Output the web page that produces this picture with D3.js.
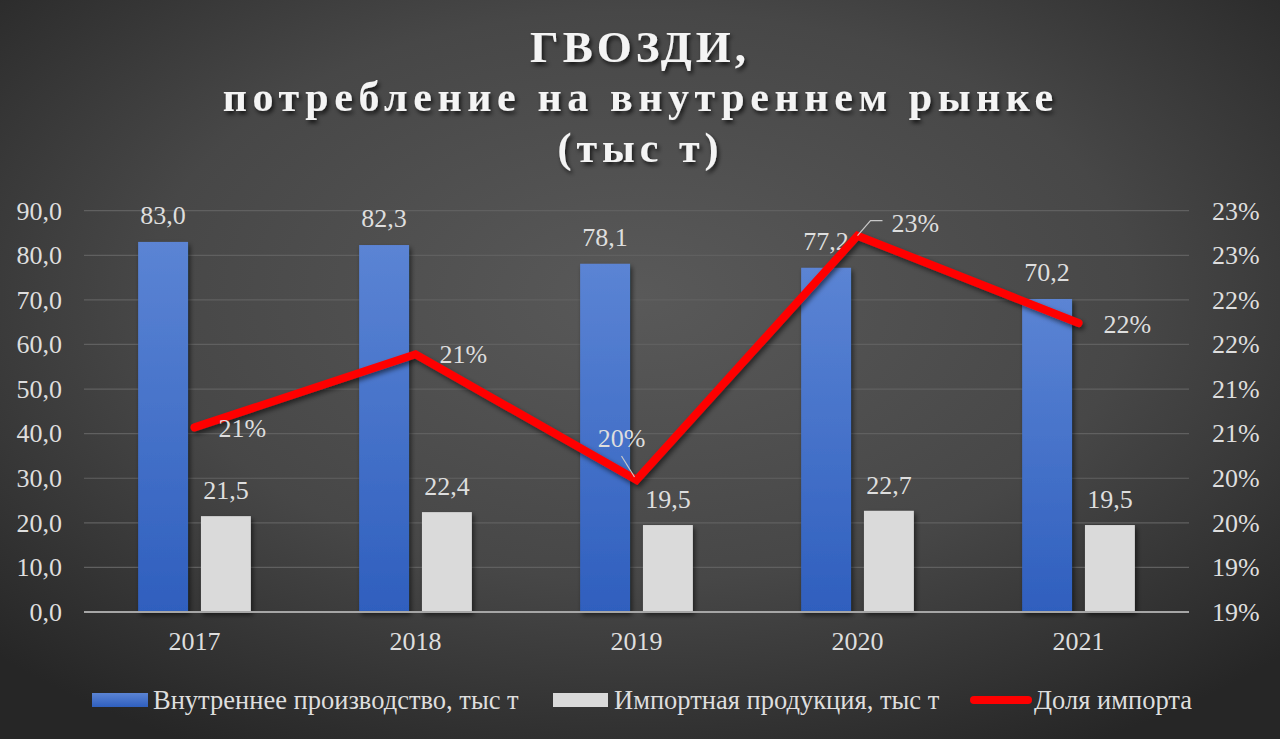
<!DOCTYPE html>
<html><head><meta charset="utf-8">
<script src="https://cdn.jsdelivr.net/npm/d3@7"></script>
<style>html,body{margin:0;padding:0;background:#333;}svg{display:block;}</style>
</head><body>
<svg id="chart" width="1280" height="739"></svg>
<script>
const years = ["2017","2018","2019","2020","2021"];
const domestic = [83.0, 82.3, 78.1, 77.2, 70.2];
const imports = [21.5, 22.4, 19.5, 22.7, 19.5];
const importShare = [0.2057, 0.2139, 0.1998, 0.2272, 0.2174];
const shareLabels = ["21%","21%","20%","23%","22%"];
const leftTicks = [0,10,20,30,40,50,60,70,80,90];
const rightTicks = [0.185,0.19,0.195,0.20,0.205,0.21,0.215,0.22,0.225,0.23];
const rightTickLabels = ["19%","19%","20%","20%","21%","21%","22%","22%","23%","23%"];
const seriesNames = ["Внутреннее производство, тыс т","Импортная продукция, тыс т","Доля импорта"];
const titleLines = ["ГВОЗДИ,","потребление на внутреннем рынке","(тыс т)"];

(function(){
const W=1280,H=739;
const svg=d3.select("#chart");
const defs=svg.append("defs");
const bg=defs.append("radialGradient").attr("id","bg").attr("cx","50%").attr("cy","40%").attr("r","70%");
bg.append("stop").attr("offset","0%").attr("stop-color","#595959");
bg.append("stop").attr("offset","55%").attr("stop-color","#474747");
bg.append("stop").attr("offset","100%").attr("stop-color","#262626");
const bl=defs.append("linearGradient").attr("id","blue").attr("x1",0).attr("y1",0).attr("x2",0).attr("y2",1);
bl.append("stop").attr("offset","0%").attr("stop-color","#5b84d4");
bl.append("stop").attr("offset","100%").attr("stop-color","#2f5fbe");
const sh=defs.append("filter").attr("id","sh").attr("x","-20%").attr("y","-20%").attr("width","150%").attr("height","150%");
sh.append("feDropShadow").attr("dx",2).attr("dy",3).attr("stdDeviation",2.5).attr("flood-color","#000").attr("flood-opacity",0.55);
const tsh=defs.append("filter").attr("id","tsh").attr("x","-10%").attr("y","-20%").attr("width","130%").attr("height","160%");
tsh.append("feDropShadow").attr("dx",2).attr("dy",3).attr("stdDeviation",2).attr("flood-color","#000").attr("flood-opacity",0.7);

svg.append("rect").attr("width",W).attr("height",H).attr("fill","url(#bg)");

const pL=84,pR=1189,pT=210.7,pB=612;
const x0=d3.scaleBand().domain(years).range([pL,pR]).paddingInner(0.49).paddingOuter(0.245);
const x1=d3.scaleBand().domain([0,1]).range([0,x0.bandwidth()]).paddingInner(0.206);
const y=d3.scaleLinear().domain([0,90]).range([pB,pT]);
const y2=d3.scaleLinear().domain([0.185,0.23]).range([pB,pT]);
const font="'Liberation Serif','Times New Roman',serif";
const txt="#dedede";
const fs=26;

// title
const tg=svg.append("g").attr("filter","url(#tsh)").attr("font-family",font).attr("font-weight","bold").attr("fill","#f4f4f4").attr("text-anchor","middle");
const tsz=[45,42,42], tby=[62,111,162], tls=[4,5.6,5];
titleLines.forEach((t,i)=>tg.append("text").attr("x",638+tls[i]/2).attr("y",tby[i]).attr("font-size",tsz[i]).attr("letter-spacing",tls[i]).text(t));

// grid
svg.append("g").selectAll("line").data(leftTicks.slice(1)).join("line")
 .attr("x1",pL).attr("x2",pR).attr("y1",d=>y(d)).attr("y2",d=>y(d))
 .attr("stroke","#606060").attr("stroke-width",1.2);

// left axis
const ax=svg.append("g").attr("transform",`translate(${pL},0)`)
 .call(d3.axisLeft(y).tickValues(leftTicks).tickSize(0).tickPadding(22).tickFormat(d=>d3.format(".1f")(d).replace(".",",")));
ax.select(".domain").remove();
ax.attr("font-family",font).attr("font-size",fs);
ax.selectAll("text").attr("fill",txt);

// right axis
const ax2=svg.append("g").attr("transform",`translate(${pR},0)`)
 .call(d3.axisRight(y2).tickValues(rightTicks).tickSize(0).tickPadding(23).tickFormat((d,i)=>rightTickLabels[i]));
ax2.select(".domain").remove();
ax2.attr("font-family",font).attr("font-size",fs);
ax2.selectAll("text").attr("fill",txt);

// x axis
const axx=svg.append("g").attr("transform",`translate(0,${pB})`)
 .call(d3.axisBottom(x0).tickSize(0).tickPadding(20));
axx.select(".domain").remove();
axx.attr("font-family",font).attr("font-size",fs);
axx.selectAll("text").attr("fill",txt);

// bars
const bars=svg.append("g");
const bw=x1.bandwidth();
bars.selectAll("rect.d").data(domestic).join("rect").attr("class","d")
 .attr("x",(d,i)=>x0(years[i])+x1(0)).attr("width",bw)
 .attr("y",d=>y(d)).attr("height",d=>pB-y(d)).attr("fill","url(#blue)").attr("filter","url(#sh)");
bars.selectAll("rect.m").data(imports).join("rect").attr("class","m")
 .attr("x",(d,i)=>x0(years[i])+x1(1)).attr("width",bw)
 .attr("y",d=>y(d)).attr("height",d=>pB-y(d)).attr("fill","#dadada").attr("filter","url(#sh)");

// baseline
svg.append("line").attr("x1",pL).attr("x2",pR).attr("y1",pB).attr("y2",pB).attr("stroke","#a6a6a6").attr("stroke-width",2);

// bar labels
const lab=svg.append("g").attr("font-family",font).attr("font-size",fs).attr("fill",txt).attr("text-anchor","middle");
const fmt=d=>d3.format(".1f")(d).replace(".",",");
lab.selectAll("text.d").data(domestic).join("text").attr("class","d")
 .attr("x",(d,i)=>x0(years[i])+x1(0)+bw/2).attr("y",d=>y(d)-18).text(fmt);
lab.selectAll("text.m").data(imports).join("text").attr("class","m")
 .attr("x",(d,i)=>x0(years[i])+x1(1)+bw/2).attr("y",d=>y(d)-17).text(fmt);

// line
const cx=i=>x0(years[i])+x0.bandwidth()/2;
const line=d3.line().x((d,i)=>cx(i)).y(d=>y2(d));
svg.append("path").datum(importShare).attr("d",line).attr("fill","none").attr("stroke","#ff0000")
 .attr("stroke-width",8).attr("stroke-linejoin","miter").attr("stroke-linecap","round").attr("filter","url(#sh)");

// line labels
const pos=[{dx:24,dy:0,a:"start"},{dx:24,dy:0,a:"start"},{dx:-15,dy:-42,a:"middle"},{dx:34,dy:-13,a:"start"},{dx:25,dy:1,a:"start"}];
const ll=svg.append("g").attr("font-family",font).attr("font-size",fs).attr("fill",txt);
ll.selectAll("text").data(importShare).join("text")
 .attr("x",(d,i)=>cx(i)+pos[i].dx).attr("y",(d,i)=>y2(d)+pos[i].dy).attr("dy","0.35em")
 .attr("text-anchor",(d,i)=>pos[i].a).text((d,i)=>shareLabels[i]);
// leader lines
const p2=[cx(2),y2(importShare[2])], p3=[cx(3),y2(importShare[3])];
svg.append("path").attr("d",`M${p2[0]-15},${p2[1]-24}L${p2[0]-2},${p2[1]-3}`).attr("stroke","#c8c8c8").attr("stroke-width",1.2).attr("fill","none");
svg.append("path").attr("d",`M${p3[0]},${p3[1]}L${p3[0]+13},${p3[1]-15}L${p3[0]+25},${p3[1]-15}`).attr("stroke","#c8c8c8").attr("stroke-width",1.2).attr("fill","none");

// legend
const lg=svg.append("g").attr("font-family",font).attr("font-size",26.5).attr("fill",txt);
lg.append("rect").attr("x",92).attr("y",693).attr("width",56).attr("height",14).attr("fill","url(#blue)");
lg.append("text").attr("x",153).attr("y",700).attr("dy","0.35em").text(seriesNames[0]);
lg.append("rect").attr("x",553).attr("y",693).attr("width",55).attr("height",14).attr("fill","#dadada");
lg.append("text").attr("x",614).attr("y",700).attr("dy","0.35em").text(seriesNames[1]);
lg.append("line").attr("x1",974).attr("x2",1028).attr("y1",700).attr("y2",700).attr("stroke","#ff0000").attr("stroke-width",8).attr("stroke-linecap","round");
lg.append("text").attr("x",1034).attr("y",700).attr("dy","0.35em").text(seriesNames[2]);
})();
</script>
</body></html>
